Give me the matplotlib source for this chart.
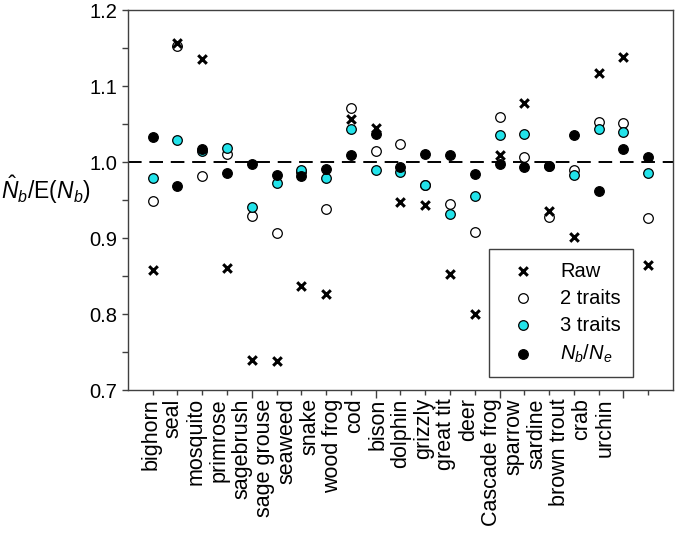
import numpy as np
import matplotlib
matplotlib.use("Agg")
import matplotlib.pyplot as plt
from matplotlib.ticker import MultipleLocator, FixedLocator

plt.rcParams['font.family'] = ['Liberation Sans', 'DejaVu Sans']
plt.rcParams['mathtext.fontset'] = 'custom'
plt.rcParams['mathtext.rm'] = 'Liberation Sans'
plt.rcParams['mathtext.it'] = 'Liberation Sans:italic'

# data
species = ["bighorn", "seal", "mosquito", "primrose", "sagebrush", "sage grouse",
           "seaweed", "snake", "wood frog", "cod", "bison", "dolphin", "grizzly",
           "great tit", "deer", "Cascade frog", "sparrow", "sardine", "brown trout",
           "crab", "urchin"]
raw = [0.858, 1.157, 1.136, 0.861, 0.739, 0.738, 0.837, 0.827, 1.057, 1.045,
       0.947, 0.943, 0.853, 0.800, 1.009, 1.078, 0.935, 0.902, 1.117, 1.138, 0.864]
traits2 = [0.949, 1.153, 0.982, 1.010, 0.929, 0.906, 0.987, 0.938, 1.071, 1.014,
           1.024, 0.970, 0.945, 0.908, 1.059, 1.006, 0.928, 0.990, 1.053, 1.052, 0.927]
traits3 = [0.979, 1.029, 1.014, 1.018, 0.941, 0.972, 0.990, 0.979, 1.044, 0.990,
           0.987, 0.970, 0.931, 0.955, 1.036, 1.037, 0.995, 0.983, 1.044, 1.039, 0.985]
nb_ne = [1.033, 0.968, 1.017, 0.986, 0.997, 0.983, 0.982, 0.991, 1.009, 1.037,
         0.993, 1.011, 1.009, 0.984, 0.998, 0.993, 0.995, 1.036, 0.962, 1.017, 1.007]

x = np.arange(1, len(species) + 1)

fig = plt.figure(figsize=(6.77, 5.42), dpi=100)
ax = fig.add_axes([0.189, 0.2804, 0.805, 0.7011])

ax.axhline(1.0, color='black', lw=1.4, ls=(0, (7, 4)), zorder=1)

ax.scatter(x, traits2, s=48, facecolor='white', edgecolor='black', lw=0.9,
           label='2 traits', zorder=2)
ax.scatter(x, traits3, s=48, facecolor='#22e3ea', edgecolor='black', lw=0.9,
           label='3 traits', zorder=3)
ax.scatter(x, nb_ne, s=48, facecolor='black', edgecolor='black', lw=0.9,
           label=r'$N_b$/$N_e$', zorder=4)
ax.scatter(x, raw, s=38, marker='x', color='black', lw=2.2, label='Raw', zorder=5)

ax.set_xlim(0, 22)
ax.set_ylim(0.7, 1.2)

ax.yaxis.set_major_locator(MultipleLocator(0.1))
ax.yaxis.set_minor_locator(MultipleLocator(0.05))
ax.yaxis.set_major_formatter(matplotlib.ticker.FormatStrFormatter('%.1f'))
ax.xaxis.set_major_locator(FixedLocator([5, 10, 15, 20]))
ax.xaxis.set_minor_locator(FixedLocator(x))
ax.set_xticklabels([])
ax.tick_params(axis='y', which='both', direction='out', length=4, width=1,
               labelsize=14.5, right=False, color='#404040')
ax.tick_params(axis='x', which='major', direction='out', length=5.5, width=1, color='#404040')
ax.tick_params(axis='x', which='minor', direction='out', length=3.5, width=1, color='#404040')
for sp in ax.spines.values():
    sp.set_color('#404040')
    sp.set_linewidth(1.0)

# category labels sit on their own 0-24 scale
sec = ax.secondary_xaxis('bottom', functions=(lambda d: d * 24 / 22, lambda u: u * 22 / 24))
sec.set_xticks(x)
sec.set_xticklabels(species, rotation=90, fontsize=15.5)
sec.tick_params(length=0, pad=6)
sec.spines['bottom'].set_visible(False)

ax.set_ylabel(r'$\hat{N}_b$/E($N_b$)', rotation=0, fontsize=16.5, va='center', ha='center')
ax.yaxis.set_label_coords(-0.150, 0.526)

handles, labels = ax.get_legend_handles_labels()
order = [3, 0, 1, 2]
leg = ax.legend([handles[i] for i in order], [labels[i] for i in order],
                loc='lower right', bbox_to_anchor=(0.927, 0.034), borderaxespad=0,
                fontsize=14.5, frameon=True, fancybox=False, edgecolor='#404040',
                framealpha=1, handletextpad=0.75, borderpad=0.6, labelspacing=0.4,
                handlelength=2.2)
leg.get_frame().set_linewidth(1.0)

fig.savefig('out.png', dpi=100)
